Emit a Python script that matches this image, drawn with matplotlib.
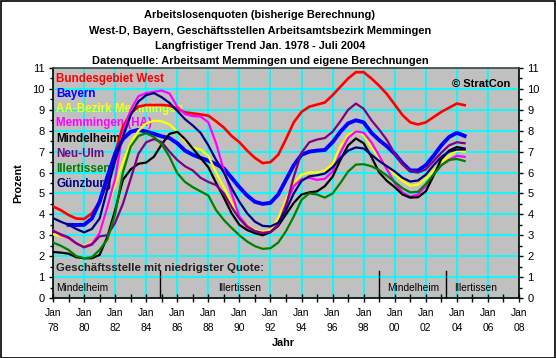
import numpy as np
import matplotlib
matplotlib.use("Agg")
import matplotlib.pyplot as plt
from matplotlib.patches import Rectangle
from matplotlib.ticker import MultipleLocator

plt.rcParams["font.family"] = ["Liberation Sans", "DejaVu Sans"]

# half-year steps, Jan 1978 .. Jul 2004
years = [1978 + 0.5 * i for i in range(54)]

west = [4.38, 4.2, 3.97, 3.8, 3.78, 4.05, 4.6, 5.55, 6.95, 8.2, 8.83, 9.15, 9.23, 9.23,
        9.23, 9.2, 9.05, 8.88, 8.83, 8.78, 8.72, 8.45, 8.15, 7.75, 7.45, 7.05, 6.7, 6.45,
        6.5, 6.85, 7.6, 8.4, 8.9, 9.15, 9.25, 9.35, 9.7, 10.1, 10.5, 10.8, 10.8, 10.5,
        10.15, 9.75, 9.25, 8.75, 8.4, 8.3, 8.4, 8.65, 8.9, 9.1, 9.3, 9.22]
# Bayern starts in 1979
bayern = [np.nan, np.nan, 3.5, 3.49, 3.5, 3.8, 4.6, 5.8, 6.9, 7.6, 7.95, 8.04, 7.96, 7.85,
          7.73, 7.65, 7.4, 7.05, 6.85, 6.7, 6.57, 6.4, 6.2, 5.75, 5.3, 4.9, 4.6, 4.5,
          4.55, 4.95, 5.65, 6.35, 6.85, 7.0, 7.05, 7.08, 7.45, 7.95, 8.35, 8.5, 8.4, 7.9,
          7.55, 7.25, 6.9, 6.45, 6.1, 6.1, 6.35, 6.8, 7.3, 7.7, 7.9, 7.75]
aa_bezirk = [3.05, 2.95, 2.85, 2.6, 2.5, 2.65, 3.1, 4.35, 5.4, 6.5, 7.4, 8.0, 8.35, 8.48,
             8.45, 8.3, 7.96, 7.5, 7.2, 7.1, 6.8, 6.0, 5.3, 4.55, 3.85, 3.49, 3.25, 3.17,
             3.25, 3.8, 4.7, 5.5, 5.9, 6.0, 6.0, 6.1, 6.4, 7.25, 7.8, 8.0, 7.8, 7.2,
             6.7, 6.3, 5.9, 5.6, 5.37, 5.42, 5.7, 6.1, 6.5, 6.8, 7.05, 7.0]
memmingen = [3.25, 3.0, 2.86, 2.6, 2.45, 2.6, 3.1, 4.35, 5.7, 7.9, 9.0, 9.65, 9.8, 9.86,
             9.92, 9.78, 9.15, 8.8, 8.7, 8.68, 8.4, 7.4, 6.1, 5.0, 3.9, 3.45, 3.2, 3.12,
             3.17, 3.5, 4.5, 5.35, 5.68, 5.75, 5.65, 5.7, 6.05, 6.95, 7.65, 7.97, 7.9, 7.45,
             6.8, 6.15, 5.5, 5.05, 4.85, 4.95, 5.35, 5.9, 6.35, 6.6, 6.8, 6.75]
mindelheim = [2.2, 2.17, 2.12, 1.95, 1.9, 1.9, 2.06, 2.93, 4.2, 5.65, 6.15, 6.42, 6.48, 6.76,
              7.35, 7.85, 7.95, 7.6, 7.15, 6.7, 6.25, 5.5, 4.8, 4.05, 3.5, 3.25, 3.1, 3.0,
              3.15, 3.45, 4.0, 4.55, 4.95, 5.05, 5.1, 5.35, 5.8, 6.6, 7.3, 7.63, 7.4, 6.75,
              6.0, 5.6, 5.3, 4.95, 4.8, 4.82, 5.1, 5.85, 6.65, 7.05, 7.22, 7.15]
neu_ulm = [3.2, 3.05, 2.9, 2.62, 2.42, 2.55, 2.95, 3.0, 3.6, 4.5, 5.7, 6.9, 7.45, 7.6,
           7.45, 7.0, 6.6, 6.3, 6.1, 5.75, 5.55, 5.4, 5.0, 4.35, 3.8, 3.4, 3.2, 3.1,
           3.15, 3.5, 4.4, 5.8, 6.95, 7.45, 7.58, 7.65, 7.95, 8.45, 9.0, 9.3, 9.05, 8.5,
           8.05, 7.55, 6.9, 6.4, 6.05, 6.0, 6.15, 6.55, 6.95, 7.3, 7.45, 7.4]
illertissen = [2.65, 2.5, 2.3, 2.0, 1.9, 1.95, 2.3, 2.8, 4.0, 6.0, 7.24, 7.75, 7.88, 7.7,
               7.35, 6.75, 5.97, 5.55, 5.3, 5.1, 4.9, 4.2, 3.73, 3.35, 3.0, 2.7, 2.48, 2.35,
               2.38, 2.65, 3.2, 3.9, 4.7, 5.0, 4.95, 4.8, 5.0, 5.5, 6.05, 6.38, 6.4, 6.3,
               6.12, 5.85, 5.55, 5.25, 5.05, 5.08, 5.45, 5.9, 6.35, 6.6, 6.65, 6.55]
guenzburg = [3.82, 3.65, 3.5, 3.3, 3.14, 3.3, 3.8, 5.2, 6.55, 7.7, 8.75, 9.4, 9.7, 9.8,
             9.6, 9.33, 8.95, 8.55, 8.25, 7.9, 7.3, 6.6, 6.0, 5.25, 4.6, 4.05, 3.65, 3.45,
             3.42, 3.6, 4.2, 5.0, 5.6, 5.82, 5.87, 5.95, 6.25, 6.7, 7.05, 7.2, 7.15, 6.85,
             6.55, 6.3, 6.05, 5.75, 5.57, 5.62, 5.9, 6.35, 6.75, 7.0, 7.1, 7.1]

series_names = ["Bundesgebiet West", "Bayern", "AA-Bezirk Memmingen", "Memmingen (HA)",
                "Mindelheim", "Neu-Ulm", "Illertissen", "Günzburg"]
series_vals = [west, bayern, aa_bezirk, memmingen, mindelheim, neu_ulm, illertissen, guenzburg]
series_colors = ["#FF0000", "#0000FF", "#FFFF00", "#FF00FF", "#000000", "#800080",
                 "#008000", "#000080"]
series_lw = [1.9, 2.8, 1.6, 1.6, 1.6, 1.6, 1.6, 1.6]

# lowest-rate office: change points and labels
switch_years = [1984.9, 1999.0, 2003.3]
lowest_labels = ["Mindelheim", "Illertissen", "Mindelheim", "Illertissen"]
lowest_label_x = [1978.2, 1988.6, 1999.5, 2003.8]

x_ticks = list(range(1978, 2009, 2))
x_ticklabels = [f"Jan\n{y % 100:02d}" for y in x_ticks]

titles = ["Arbeitslosenquoten (bisherige Berechnung)",
          "West-D, Bayern, Geschäftsstellen Arbeitsamtsbezirk Memmingen",
          "Langfristiger Trend Jan. 1978 - Juli 2004",
          "Datenquelle: Arbeitsamt Memmingen und eigene Berechnungen"]

W, H = 556, 358
fig = plt.figure(figsize=(W / 100, H / 100), dpi=100)
fig.patch.set_facecolor("white")
ax = fig.add_axes([53 / W, 1 - 298 / H, 466 / W, 230 / H])
ax.set_facecolor("#C0C0C0")
ax.set_xlim(1978, 2008)
ax.set_ylim(0, 11)

ax.set_xticks(x_ticks)
ax.set_xticklabels(x_ticklabels, fontsize=7.4, linespacing=1.6)
ax.xaxis.set_minor_locator(MultipleLocator(1))
ax.set_yticks(range(0, 12))
ax.yaxis.set_minor_locator(MultipleLocator(0.5))
ax.tick_params(axis="x", which="both", direction="inout", length=6, width=1, pad=4)
ax.tick_params(axis="y", which="major", direction="out", length=3, width=1,
               labelsize=8, right=True, labelright=True, pad=3)
ax.tick_params(axis="y", which="minor", direction="out", length=2, width=1, right=True)
ax.grid(True, which="major", color="#00FFFF", lw=1.3)
ax.set_axisbelow(True)
for s in ax.spines.values():
    s.set_color("black")
    s.set_linewidth(1.2)
ax.spines["top"].set_color("#404040")

# legend texts drawn in the plot, behind the curves
legend_y = [10.48, 9.75, 9.03, 8.37, 7.6, 6.89, 6.16, 5.45]
for name, col, ly in zip(series_names, series_colors, legend_y):
    ax.text(1978.2, ly, name, color=col, fontsize=8.4, fontweight="bold",
            va="center", ha="left", zorder=2)

for vals, col, lw in zip(series_vals, series_colors, series_lw):
    ax.plot(years, vals, color=col, lw=lw, zorder=3, solid_joinstyle="round")

ax.text(2007.45, 10.24, "© StratCon", fontsize=8, fontweight="bold",
        ha="right", va="center", zorder=4)

ax.text(1978.2, 1.45, "Geschäftsstelle mit niedrigster Quote:", fontsize=8.2,
        fontweight="bold", ha="left", va="center", color="#202020", zorder=4)
for sx in switch_years:
    ax.plot([sx, sx], [0, 1.3], color="black", lw=1, zorder=4)
for lab, lx in zip(lowest_labels, lowest_label_x):
    ax.text(lx, 0.5, lab, fontsize=7.3, ha="left", va="center", zorder=4)

title_y = [15, 31, 46, 61]
for t, ty in zip(titles, title_y):
    fig.text(260 / W, 1 - ty / H, t, fontsize=7.9, fontweight="bold",
             ha="center", va="center")

fig.text(18 / W, 1 - 183 / H, "Prozent", rotation=90, fontsize=7.8,
         fontweight="bold", ha="center", va="center")
fig.text(283 / W, 1 - 343 / H, "Jahr", fontsize=7.8, fontweight="bold",
         ha="center", va="center")

fig.patches.append(Rectangle((0.001, 0.001), 0.997, 0.996, transform=fig.transFigure,
                             fill=False, ec="black", lw=1.2))

fig.savefig("out.png", dpi=100)
